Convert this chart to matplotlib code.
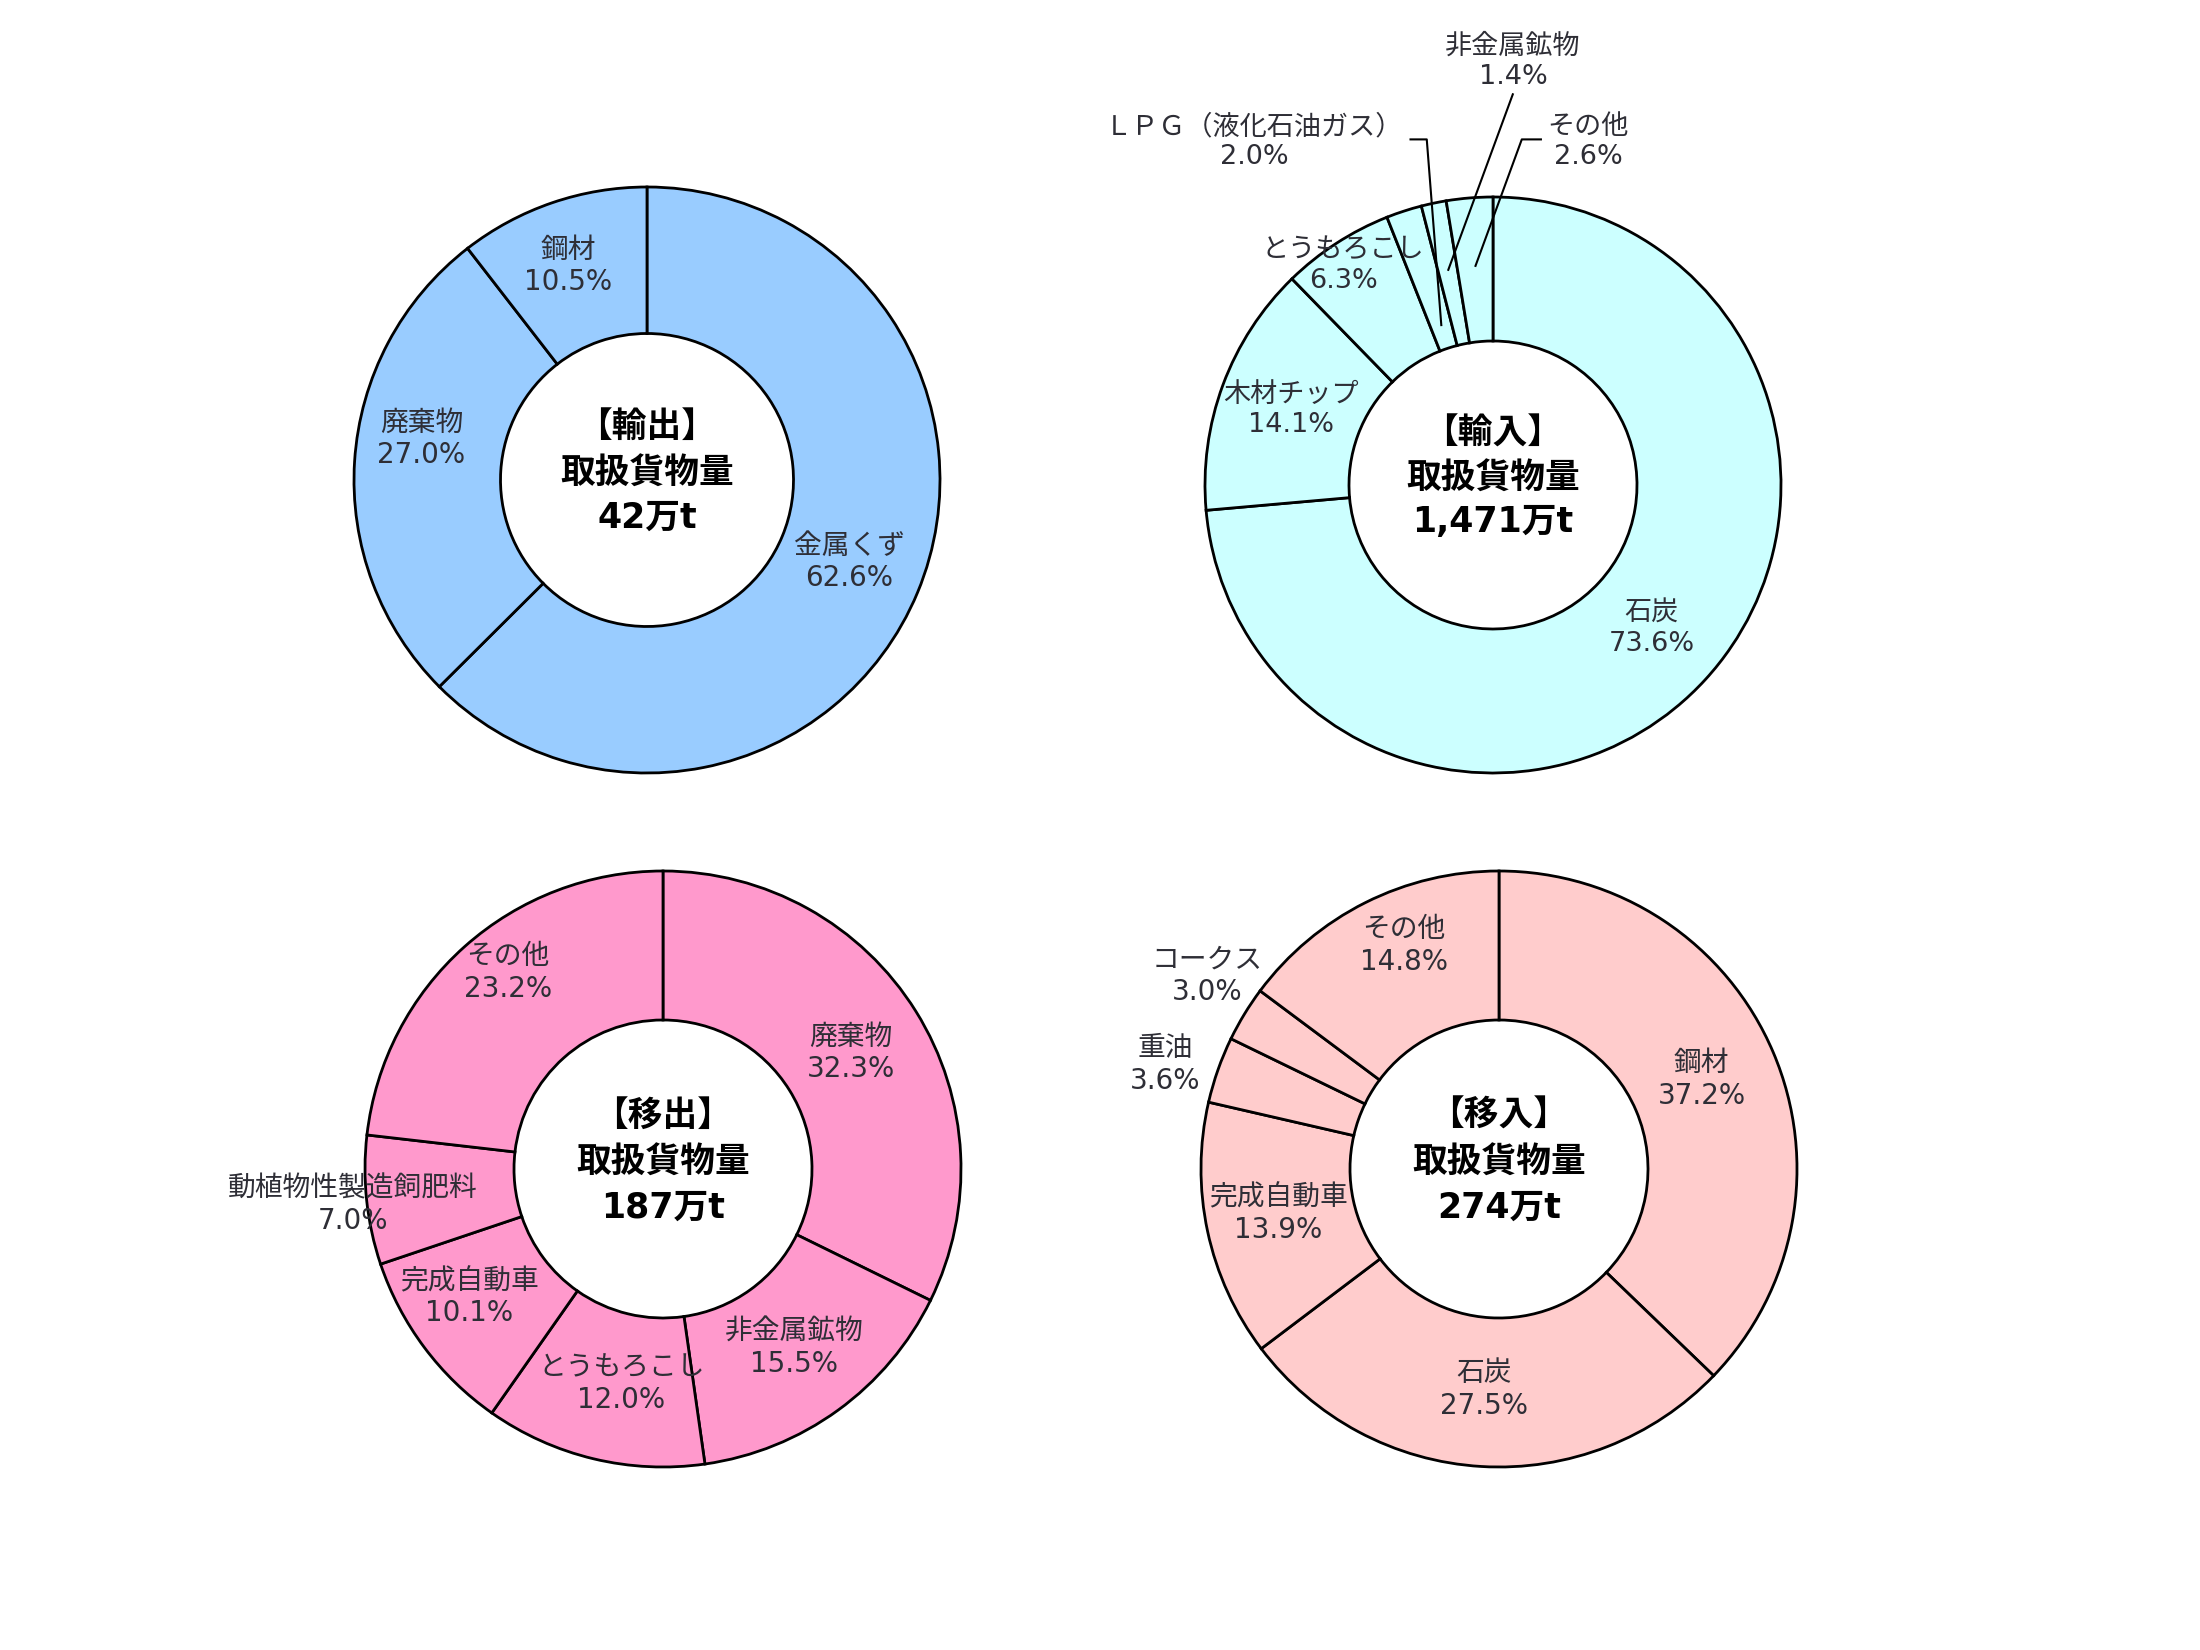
import matplotlib.pyplot as plt
import numpy as np

plt.rcParams['font.family'] = ['Noto Sans CJK JP', 'DejaVu Sans']
# wider Latin digits first, Japanese glyphs fall back to Noto
label_fonts = ['DejaVu Sans', 'Noto Sans CJK JP']

# --- data ---
export_items = ['金属くず', '廃棄物', '鋼材']
export_share = [62.6, 27.0, 10.5]
export_total = '42万t'

import_items = ['石炭', '木材チップ', 'とうもろこし', 'ＬＰＧ（液化石油ガス）', '非金属鉱物', 'その他']
import_share = [73.6, 14.1, 6.3, 2.0, 1.4, 2.6]
import_total = '1,471万t'

out_items = ['廃棄物', '非金属鉱物', 'とうもろこし', '完成自動車', '動植物性製造飼肥料', 'その他']
out_share = [32.3, 15.5, 12.0, 10.1, 7.0, 23.2]
out_total = '187万t'

in_items = ['鋼材', '石炭', '完成自動車', '重油', 'コークス', 'その他']
in_share = [37.2, 27.5, 13.9, 3.6, 3.0, 14.8]
in_total = '274万t'

# --- layout (pixel centres / radius, label offsets in radius units) ---
W, H = 2200, 1650
charts = [
    dict(title='【輸出】', items=export_items, share=export_share, total=export_total,
         color='#99ccff', center=(647, 480), r=293, fs=20,
         pos=[(0.69, -0.28), (-0.77, 0.14), (-0.27, 0.73)], leaders={}),
    dict(title='【輸入】', items=import_items, share=import_share, total=import_total,
         color='#ccffff', center=(1493, 485), r=288, fs=19.5,
         pos=[(0.55, -0.50), (-0.70, 0.26), (-0.52, 0.76), (-0.83, 1.19), (0.07, 1.47), (0.33, 1.19)],
         leaders={3: ([(-0.29, 1.20), (-0.23, 1.20)], 0.58),
                  4: ([(0.07, 1.36)], 0.76),
                  5: ([(0.17, 1.20), (0.10, 1.20)], 0.76)}),
    dict(title='【移出】', items=out_items, share=out_share, total=out_total,
         color='#ff99cc', center=(663, 1169), r=298, fs=20,
         pos=[(0.63, 0.39), (0.44, -0.60), (-0.14, -0.72), (-0.65, -0.43), (-1.04, -0.12), (-0.52, 0.66)],
         leaders={}),
    dict(title='【移入】', items=in_items, share=in_share, total=in_total,
         color='#ffcccc', center=(1499, 1169), r=298, fs=20,
         pos=[(0.68, 0.30), (-0.05, -0.74), (-0.74, -0.15), (-1.12, 0.35), (-0.98, 0.65), (-0.32, 0.75)],
         leaders={}),
]

fig = plt.figure(figsize=(22, 16.5), dpi=100)
fig.patch.set_facecolor('white')

span = 1.7
for c in charts:
    cx, cy = c['center']
    r = c['r']
    ax = fig.add_axes([(cx - span * r) / W, 1 - (cy + span * r) / H,
                       2 * span * r / W, 2 * span * r / H])

    vals = c['share']
    ax.pie(vals, startangle=90, counterclock=False, radius=1,
           colors=[c['color']] * len(vals),
           wedgeprops=dict(width=0.5, edgecolor='black', linewidth=2))
    ax.set_xlim(-span, span)
    ax.set_ylim(-span, span)
    ax.set_aspect('equal')
    ax.axis('off')

    total = sum(vals)
    cum = np.cumsum([0] + vals[:-1])
    for i, (name, v) in enumerate(zip(c['items'], vals)):
        x, y = c['pos'][i]
        ax.text(x, y, f'{name}\n{v:.1f}%', ha='center', va='center',
                fontsize=c['fs'], color='#2e2e36', linespacing=1.2,
                family=label_fonts, clip_on=False)
        if i in c['leaders']:
            elbow, rr = c['leaders'][i]
            ang = np.deg2rad(90 - 360 * (cum[i] + v / 2) / total)
            pts = elbow + [(rr * np.cos(ang), rr * np.sin(ang))]
            xs, ys = zip(*pts)
            ax.plot(xs, ys, color='black', lw=1.5, solid_capstyle='butt')

    for dy, txt in zip([0.18, 0.02, -0.13], [c['title'], '取扱貨物量', c['total']]):
        ax.text(0, dy, txt, ha='center', va='center', fontsize=25,
                fontweight='bold', color='black', family=label_fonts)

fig.savefig('out.png', dpi=100, facecolor='white')
